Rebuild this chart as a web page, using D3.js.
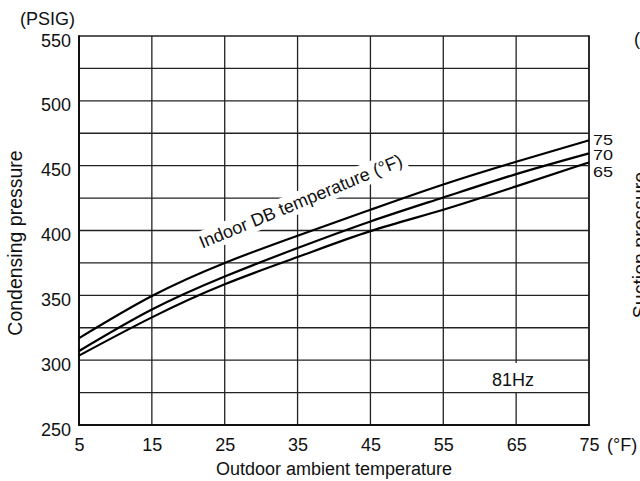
<!DOCTYPE html>
<html><head><meta charset="utf-8">
<script src="https://cdn.jsdelivr.net/npm/d3@7"></script>
<style>body{margin:0;background:#fff}svg{display:block}text{font-family:"Liberation Sans",Arial,sans-serif;fill:#111}</style>
</head><body>
<svg id="c" width="640" height="481"></svg>
<script>
const xTicks = [5, 15, 25, 35, 45, 55, 65, 75];
const yTicks = [250, 300, 350, 400, 450, 500, 550];
const yGrid = [250, 275, 300, 325, 350, 375, 400, 425, 450, 475, 500, 525, 550];
const temps = [5, 15, 25, 35, 45, 55, 65, 75];
const series75 = [317, 349.5, 375, 396, 416, 435.5, 453, 469.5];
const series70 = [307, 339, 364.5, 386.5, 407, 425.5, 443.5, 459.5];
const series65 = [303.5, 333, 358.5, 379.5, 399.5, 416, 434, 452.5];
const seriesNames = ["75", "70", "65"];

const FS = 18;
const svg = d3.select("#c");
const x = d3.scaleLinear().domain([5, 75]).range([79, 589]);
const y = d3.scaleLinear().domain([250, 550]).range([425, 36]);

// grid
const g = svg.append("g");
g.selectAll(".hg").data(yGrid).join("line")
  .attr("x1", x(5)).attr("x2", x(75)).attr("y1", d => y(d)).attr("y2", d => y(d))
  .attr("stroke", "#222").attr("stroke-width", 1.3);
g.selectAll(".vg").data(xTicks).join("line")
  .attr("x1", d => x(d)).attr("x2", d => x(d)).attr("y1", y(250)).attr("y2", y(550))
  .attr("stroke", "#222").attr("stroke-width", 1.3);
// frame
svg.append("line").attr("x1", x(5)).attr("x2", x(5)).attr("y1", y(550) - 0.7).attr("y2", y(250) + 1).attr("stroke", "#111").attr("stroke-width", 2);
svg.append("line").attr("x1", x(5) - 1).attr("x2", x(75) + 1).attr("y1", y(250)).attr("y2", y(250)).attr("stroke", "#111").attr("stroke-width", 2);
svg.append("line").attr("x1", x(75)).attr("x2", x(75)).attr("y1", y(550) - 0.7).attr("y2", y(250)).attr("stroke", "#222").attr("stroke-width", 1.7);

// axes (labels)
const ax = svg.append("g").attr("transform", `translate(0,${y(250)})`)
  .call(d3.axisBottom(x).tickValues(xTicks).tickSize(0).tickPadding(13).tickFormat(d3.format("d")));
ax.select(".domain").remove();
ax.selectAll("text").attr("font-size", FS).attr("fill", "#111").attr("font-family", "Liberation Sans, Arial, sans-serif");
const ay = svg.append("g").attr("transform", `translate(${x(5)},0)`)
  .call(d3.axisLeft(y).tickValues(yTicks).tickSize(0).tickPadding(8).tickFormat(d3.format("d")));
ay.select(".domain").remove();
ay.selectAll("text").attr("font-size", FS).attr("fill", "#111").attr("dy", null).attr("y", 10)
  .attr("font-family", "Liberation Sans, Arial, sans-serif");

svg.append("text").attr("x", 607).attr("y", 451).attr("font-size", FS).text("(°F)");
svg.append("text").attr("x", 20).attr("y", 25).attr("font-size", FS).text("(PSIG)");
svg.append("text").attr("x", 334).attr("y", 475).attr("font-size", FS).attr("text-anchor", "middle").text("Outdoor ambient temperature");
svg.append("text").attr("transform", "translate(22,243) rotate(-90)").attr("font-size", 19.5).attr("text-anchor", "middle").text("Condensing pressure");
// partial neighbour chart
svg.append("text").attr("x", 634).attr("y", 45).attr("font-size", FS).text("(");
svg.append("text").attr("transform", "translate(647,245) rotate(-90)").attr("font-size", 19.5).attr("text-anchor", "middle").text("Suction pressure");

// 81Hz label with white background
const hz = svg.append("g");
hz.append("rect").attr("x", 490).attr("y", 363).attr("width", 46).attr("height", 29).attr("fill", "#fff");
hz.append("text").attr("x", 513).attr("y", 386).attr("font-size", FS).attr("text-anchor", "middle").text("81Hz");

// Indoor DB temperature label
const lbl = svg.append("g").attr("transform", "translate(303,207) rotate(-22.5)");
const lt = lbl.append("text").attr("font-size", FS).attr("text-anchor", "middle").text("Indoor DB temperature (°F)");
const bb = lt.node().getBBox();
lbl.insert("rect", "text").attr("x", bb.x - 4).attr("y", bb.y - 1).attr("width", bb.width + 8).attr("height", bb.height + 2).attr("fill", "#fff");

// curves
const line = d3.line().x((d, i) => x(temps[i])).y(d => y(d)).curve(d3.curveNatural);
[series75, series70, series65].forEach(s => {
  svg.append("path").attr("d", line(s)).attr("fill", "none").attr("stroke", "#000").attr("stroke-width", 2.2);
});
const labY = [145, 160, 177];
seriesNames.forEach((n, i) => {
  svg.append("text").attr("transform", `translate(593,${labY[i]}) scale(1,0.84)`).attr("font-size", FS).text(n);
});
</script>
</body></html>
